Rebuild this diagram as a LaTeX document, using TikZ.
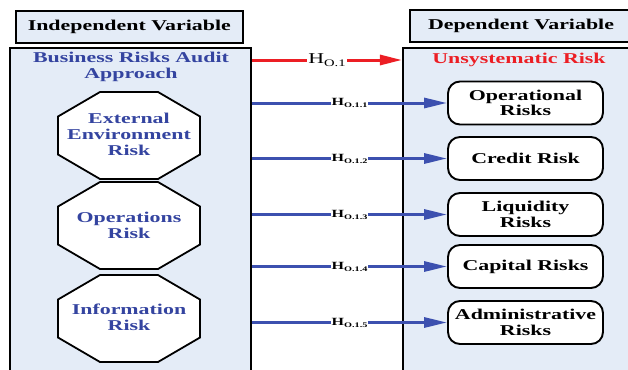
\documentclass[tikz,border=0pt]{standalone}
\usepackage{fontspec}
\setmainfont{Liberation Serif}[FakeStretch=1.46]
\usetikzlibrary{arrows.meta,calc}
\definecolor{paleblue}{RGB}{228,236,247}
\definecolor{txtblue}{RGB}{52,68,160}
\definecolor{arrblue}{RGB}{60,80,175}
\definecolor{arrred}{RGB}{236,30,36}
\newcommand\octshape[2]{\draw[octline,shift={(#1,#2)}] (-71,-19) -- (-29,-43.5) -- (29,-43.5) -- (71,-19) -- (71,19) -- (29,43.5) -- (-29,43.5) -- (-71,19) -- cycle;}
\begin{document}
\begin{tikzpicture}[x=1pt,y=-1pt,
  hdr/.style={draw=black,line width=2.1pt,fill=paleblue,inner sep=0pt,font=\bfseries\fontsize{15}{16}\selectfont},
  bigbox/.style={draw=black,line width=2.1pt,fill=paleblue,inner sep=0pt},
  octline/.style={draw=black,line width=1.8pt,fill=white},
  octtext/.style={align=center,text=txtblue,font=\bfseries\fontsize{15}{16}\selectfont,inner sep=0pt},
  riskbox/.style={draw=black,line width=1.9pt,fill=white,rounded corners=12pt,minimum width=155pt,minimum height=43pt,align=center,inner sep=0pt,font=\bfseries\fontsize{15}{15.5}\selectfont},
  bluearr/.style={draw=arrblue,line width=3pt,-{Triangle[length=23pt,width=10pt]}},
  redarr/.style={draw=arrred,line width=3pt,-{Triangle[length=22pt,width=10pt]}},
  hlab/.style={fill=white,inner sep=1pt,text=black,font=\bfseries\fontsize{11}{11}\selectfont},
]
\useasboundingbox (0,0) rectangle (628,369);
\clip (0,0) rectangle (628,369);
% headers
\node[hdr,minimum width=227pt,minimum height=32pt] (ih) at (129.3,26.7) {Independent Variable};
\node[hdr,minimum width=222pt,minimum height=32pt] (dh) at (521,26) {Dependent Variable};
% big boxes
\node[bigbox,minimum width=241pt,minimum height=362pt] (lb) at (130.5,229) {};
\node[bigbox,minimum width=234pt,minimum height=364pt] (rb) at (520,230) {};
% titles
\node[octtext] (bra) at (131,67) {Business Risks Audit\\[0pt]Approach};
\node[octtext,text=arrred] (ut) at (519,60) {Unsystematic Risk};
% octagons
\octshape{129}{135.5}
\node[octtext] (ext) at (129,134.5) {External\\Environment\\Risk};
\octshape{129}{225.5}
\node[octtext] (ops) at (129,225) {Operations\\Risk};
\octshape{129}{318.5}
\node[octtext] (inf) at (129,317.5) {Information\\Risk};
% risk boxes
\node[riskbox] (op) at (525.5,103) {Operational\\Risks};
\node[riskbox] (cr) at (525.5,158.5) {Credit Risk};
\node[riskbox] (lq) at (525.5,214.5) {Liquidity\\Risks};
\node[riskbox] (cp) at (525.5,266.5) {Capital Risks};
\node[riskbox] (ad) at (525.5,322.5) {Administrative\\Risks};
% connectors
\draw[redarr] (lb.east |- ut.west) -- node[fill=white,inner sep=1pt,text=black,font=\fontsize{15}{15}\selectfont]{H\raisebox{-3pt}{\fontsize{10}{10}\selectfont O.1}} (rb.west |- ut.west);
\draw[bluearr] (lb.east |- op.west) -- node[hlab]{H\raisebox{-2pt}{\fontsize{7}{7}\selectfont O.1.1}} (op.west);
\draw[bluearr] (lb.east |- cr.west) -- node[hlab]{H\raisebox{-2pt}{\fontsize{7}{7}\selectfont O.1.2}} (cr.west);
\draw[bluearr] (lb.east |- lq.west) -- node[hlab]{H\raisebox{-2pt}{\fontsize{7}{7}\selectfont O.1.3}} (lq.west);
\draw[bluearr] (lb.east |- cp.west) -- node[hlab]{H\raisebox{-2pt}{\fontsize{7}{7}\selectfont O.1.4}} (cp.west);
\draw[bluearr] (lb.east |- ad.west) -- node[hlab]{H\raisebox{-2pt}{\fontsize{7}{7}\selectfont O.1.5}} (ad.west);
\end{tikzpicture}
\end{document}
